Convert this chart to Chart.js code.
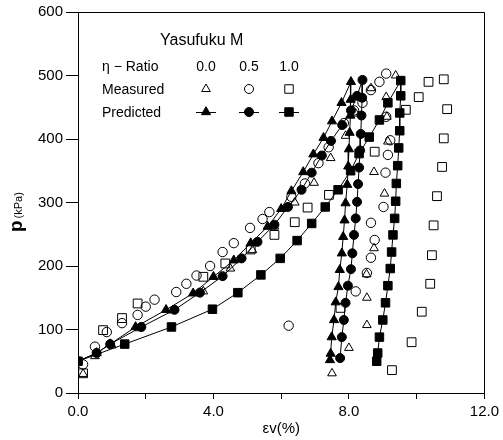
<!DOCTYPE html>
<html>
<head>
<meta charset="utf-8">
<script src="https://cdn.jsdelivr.net/npm/chart.js@4.4.1/dist/chart.umd.min.js"></script>
<style>
    html, body { margin: 0; padding: 0; background: #fff; }
    #wrap { position: relative; width: 503px; height: 440px; }
</style>
</head>
<body>
<div id="wrap"><canvas id="pChart"></canvas></div>
<script>
// Predicted (solid markers + line): loading then unloading, eta = 0.0 / 0.5 / 1.0
const predEps00 = [0, 0.55, 0.95, 1.7, 2.6, 3.4, 4.0, 4.6, 5.1, 5.6, 6.0, 6.3, 6.65, 6.95, 7.25, 7.5, 7.78, 8.06,
    8.05, 8.04, 8.02, 8.0, 7.98, 7.95, 7.9, 7.87, 7.83, 7.79, 7.73, 7.69, 7.61, 7.56, 7.49, 7.46, 7.44];
const predP00 = [50, 63, 77, 104, 131, 157, 183, 209, 236, 262, 290, 318, 348, 376, 402, 428, 457, 490,
    462, 437, 410, 384, 357, 328, 299, 272, 246, 220, 194, 167, 143, 115, 88, 62, 52];

const predEps05 = [0, 0.55, 0.95, 1.87, 2.85, 3.6, 4.27, 4.83, 5.3, 5.8, 6.2, 6.6, 6.9, 7.2, 7.47, 7.8, 8.06, 8.24, 8.4,
    8.39, 8.37, 8.35, 8.33, 8.3, 8.27, 8.24, 8.2, 8.15, 8.1, 8.06, 7.97, 7.9, 7.85, 7.79, 7.74];
const predP05 = [50, 63, 77, 104, 131, 158, 184, 212, 238, 265, 293, 320, 347, 374, 397, 422, 445, 468, 493,
    465, 437, 408, 382, 355, 329, 301, 275, 249, 220, 195, 169, 142, 115, 88, 55];

const predEps10 = [0, 1.38, 2.76, 3.97, 4.72, 5.4, 5.97, 6.47, 6.9, 7.3, 7.68, 8.05, 8.3, 8.6, 8.9, 9.15, 9.53,
    9.53, 9.5, 9.5, 9.47, 9.44, 9.4, 9.38, 9.35, 9.3, 9.26, 9.22, 9.15, 9.08, 9.0, 8.9, 8.85, 8.82];
const predP10 = [50, 77, 104, 132, 158, 186, 212, 240, 267, 293, 320, 350, 377, 403, 430, 457, 492,
    468, 441, 413, 386, 358, 330, 302, 275, 249, 222, 196, 169, 142, 115, 88, 63, 50];

// Measured (open markers)
const measEps00 = [0.15, 0.5, 1.0, 1.8, 2.8, 3.7, 4.5, 5.15, 5.8, 6.4, 6.97, 7.46, 7.9, 8.2, 8.65,
    9.38, 9.1, 9.12, 9.15, 8.74, 9.05, 8.74, 8.52, 8.53, 8.53, 8.0, 7.5];
const measP00 = [30, 58, 75, 102, 130, 160, 196, 225, 262, 300, 331, 370, 405, 440, 480,
    500, 466, 435, 396, 348, 314, 228, 187, 150, 107, 71, 31];

const measEps05 = [0.15, 0.5, 0.85, 1.3, 1.76, 2.0, 2.26, 2.9, 3.2, 3.5, 3.9, 4.27, 4.6, 5.08, 5.45, 5.65,
    6.3, 6.7, 7.1, 7.4, 7.85, 8.15, 8.4, 8.65, 8.9, 9.1,
    9.1, 9.22, 9.15, 9.08, 9.02, 8.65, 8.76, 8.65, 8.53, 8.2, 6.22];
const measP05 = [45, 73, 96, 110, 123, 136, 147, 159, 172, 185, 200, 222, 236, 260, 274, 285,
    309, 330, 362, 387, 425, 445, 457, 477, 490, 503,
    435, 398, 375, 347, 293, 268, 241, 213, 189, 160, 106];

const measEps10 = [0.15, 0.74, 1.3, 1.76, 3.7, 4.35, 5.1, 5.8, 6.4, 6.78, 7.41, 7.75, 8.76, 9.68, 10.06, 10.35, 10.8,
    10.9, 10.8, 10.75, 10.6, 10.5, 10.45, 10.4, 10.15, 9.85, 9.27];
const measP10 = [31, 99, 118, 141, 183, 204, 226, 249, 269, 292, 312, 134, 380, 446, 466, 490, 494,
    447, 401, 356, 310, 264, 217, 172, 128, 80, 36];

// Axis ticks and legend text
const xTickValues = [0, 4, 8, 12];
const xTickLabels = ["0.0", "4.0", "8.0", "12.0"];
const etaRatios = ["0.0", "0.5", "1.0"];
const legendTitle = "Yasufuku M";

const FONT = "'Liberation Sans', Arial, sans-serif";

function toPoints(xs, ys) {
    return xs.map((x, i) => ({ x: x, y: ys[i] }));
}

function predicted(xs, ys, style, r) {
    return {
        data: toPoints(xs, ys),
        showLine: true,
        borderColor: "#000",
        borderWidth: 1,
        pointStyle: style,
        pointRadius: r,
        pointBackgroundColor: "#000",
        pointBorderColor: "#000",
        pointBorderWidth: 1,
    };
}

function measured(xs, ys, style, r) {
    return {
        data: toPoints(xs, ys),
        showLine: false,
        pointStyle: style,
        pointRadius: r,
        pointBackgroundColor: "rgba(0,0,0,0)",
        pointBorderColor: "#000",
        pointBorderWidth: 1,
    };
}

// Box, custom legend and y title
const decorPlugin = {
    id: "decor",
    afterDraw(chart) {
        const ctx = chart.ctx;
        const a = chart.chartArea;
        ctx.save();
        ctx.strokeStyle = "#000";
        ctx.lineWidth = 1;
        ctx.beginPath();
        ctx.moveTo(Math.round(a.left) + 0.5, Math.round(a.top) + 0.5);
        ctx.lineTo(Math.round(a.right) + 0.5, Math.round(a.top) + 0.5);
        ctx.lineTo(Math.round(a.right) + 0.5, Math.round(a.bottom) + 0.5);
        ctx.stroke();

        // legend
        ctx.fillStyle = "#000";
        ctx.textBaseline = "alphabetic";
        ctx.textAlign = "left";
        ctx.font = "16px " + FONT;
        ctx.fillText(legendTitle, 160, 45);
        ctx.font = "14px " + FONT;
        ctx.fillText("\u03b7 \u2212 Ratio", 102, 71);
        ctx.fillText("Measured", 102, 94);
        ctx.fillText("Predicted", 102, 117);

        const cols = [206, 249, 289];
        const styles = ["triangle", "circle", "rect"];
        const openR = [5, 4.5, 6];
        const fillR = [5.3, 4.5, 6];
        ctx.textAlign = "center";
        etaRatios.forEach((t, i) => ctx.fillText(t, cols[i], 71));
        cols.forEach((cx, i) => {
            ctx.fillStyle = "rgba(0,0,0,0)";
            Chart.helpers.drawPoint(ctx, { pointStyle: styles[i], radius: openR[i], borderWidth: 1 }, cx, 89);
            ctx.beginPath();
            ctx.moveTo(cx - 10, 112.5);
            ctx.lineTo(cx + 10, 112.5);
            ctx.stroke();
            ctx.fillStyle = "#000";
            Chart.helpers.drawPoint(ctx, { pointStyle: styles[i], radius: fillR[i], borderWidth: 1 }, cx, 112);
        });

        // y axis title: bold p + small (kPa)
        ctx.fillStyle = "#000";
        ctx.translate(22, 232);
        ctx.rotate(-Math.PI / 2);
        ctx.textAlign = "left";
        ctx.font = "bold 19px " + FONT;
        ctx.fillText("p", 0, 0);
        const w = ctx.measureText("p").width;
        ctx.font = "11px " + FONT;
        ctx.fillText("(kPa)", w + 2, 0);
        ctx.restore();
    },
};

const ctx = document.getElementById("pChart").getContext("2d");

const pChart = new Chart(ctx, {
    type: "scatter",
    data: {
        datasets: [
            predicted(predEps00, predP00, "triangle", 5.3),
            predicted(predEps05, predP05, "circle", 4.5),
            predicted(predEps10, predP10, "rect", 6),
            measured(measEps00, measP00, "triangle", 5),
            measured(measEps05, measP05, "circle", 4.7),
            measured(measEps10, measP10, "rect", 6.2),
        ],
    },
    options: {
        responsive: true,
        maintainAspectRatio: false,
        animation: false,
        layout: { padding: { left: 0, top: 12, right: 16, bottom: 0 } },
        plugins: {
            legend: { display: false },
            tooltip: { enabled: false },
        },
        scales: {
            x: {
                type: "linear",
                min: 0,
                max: 12,
                afterFit: (scale) => { scale.height = 47; },
                ticks: {
                    stepSize: 2,
                    autoSkip: false,
                    maxRotation: 0,
                    color: "#000",
                    padding: 4,
                    font: { family: FONT, size: 15 },
                    callback: (v) => {
                        const i = xTickValues.indexOf(v);
                        return i >= 0 ? xTickLabels[i] : "";
                    },
                },
                grid: { drawOnChartArea: false, drawTicks: true, tickLength: 6, color: "#000" },
                border: { display: true, color: "#000", width: 1 },
                title: {
                    display: true,
                    text: "\u03b5v(%)",
                    color: "#000",
                    font: { family: FONT, size: 15 },
                    padding: { top: 0, bottom: 2 },
                },
            },
            y: {
                type: "linear",
                min: 0,
                max: 600,
                afterFit: (scale) => { scale.width = 78; },
                ticks: {
                    stepSize: 100,
                    color: "#000",
                    padding: 3,
                    font: { family: FONT, size: 15 },
                },
                grid: { drawOnChartArea: false, drawTicks: true, tickLength: 12, color: "#000" },
                border: { display: true, color: "#000", width: 1 },
            },
        },
    },
    plugins: [decorPlugin],
});
</script>
</body>
</html>
